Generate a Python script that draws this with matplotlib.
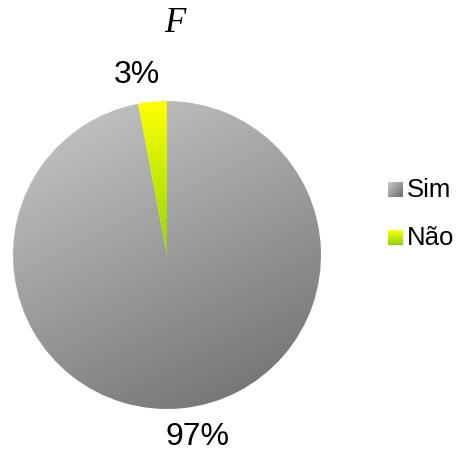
import numpy as np
import matplotlib
matplotlib.use('Agg')
import matplotlib.pyplot as plt
from matplotlib.colors import LinearSegmentedColormap

# ---- data ----
labels = ['Sim', 'Não']
values = [97, 3]
pct_text = ['97%', '3%']
title = 'F'

W, H = 458, 452
fig = plt.figure(figsize=(W / 100, H / 100), dpi=100)

# pie axes: circle centre ~ (167,256) px, radius ~154 px
cx, cy, r = 167, 256, 154
ax = fig.add_axes([(cx - r) / W, (H - cy - r) / H, 2 * r / W, 2 * r / H])

wedges, _ = ax.pie(values, startangle=90, counterclock=False, radius=1,
                   colors=['none', 'none'], wedgeprops=dict(linewidth=0))
ax.set_xlim(-1, 1)
ax.set_ylim(-1, 1)
ax.set_aspect('equal')
ax.axis('off')

# grey gradient, light top-left -> dark bottom-right
grey = LinearSegmentedColormap.from_list('g', ['#cacaca', '#6c6c6c'])
yy, xx = np.mgrid[1:-1:400j, -1:1:400j]
t = (0.45 * xx - 0.89 * yy)
t = (t - t.min()) / (t.max() - t.min())
im = ax.imshow(t, cmap=grey, extent=[-1, 1, -1, 1], origin='upper', zorder=1)
im.set_clip_path(wedges[0])

# yellow -> green gradient, top to centre
yel = LinearSegmentedColormap.from_list('y', ['#ffff00', '#8ed60a'])
ty = np.clip(1 - yy, 0, 1)
im2 = ax.imshow(ty, cmap=yel, extent=[-1, 1, -1, 1], origin='upper', zorder=1)
im2.set_clip_path(wedges[1])

# percentage labels
ax.text(-0.195, 1.175, pct_text[1], ha='center', va='center', fontsize=23,
        family='Liberation Sans', clip_on=False)
ax.text(0.195, -1.175, pct_text[0], ha='center', va='center', fontsize=23,
        family='Liberation Sans', clip_on=False)

fig.text(175 / W, 1 - 24 / H, title, ha='center', va='center', fontsize=25,
         family='Liberation Serif', style='italic')

# legend with gradient swatches
ys = [190, 238]
cmaps = [grey, yel]
for i in range(2):
    sax = fig.add_axes([388 / W, (H - ys[i] - 7.5) / H, 15 / W, 15 / H])
    sy, sx = np.mgrid[0:1:20j, 0:1:20j]
    if i == 0:
        g = (sx + sy) / 2
    else:
        g = sy
    sax.imshow(g, cmap=cmaps[i], extent=[0, 1, 0, 1], origin='upper', aspect='auto')
    sax.axis('off')
    fig.text(407 / W, 1 - ys[i] / H, labels[i], ha='left', va='center',
             fontsize=18.5, family='Liberation Sans')

plt.savefig('out.png', dpi=100)
